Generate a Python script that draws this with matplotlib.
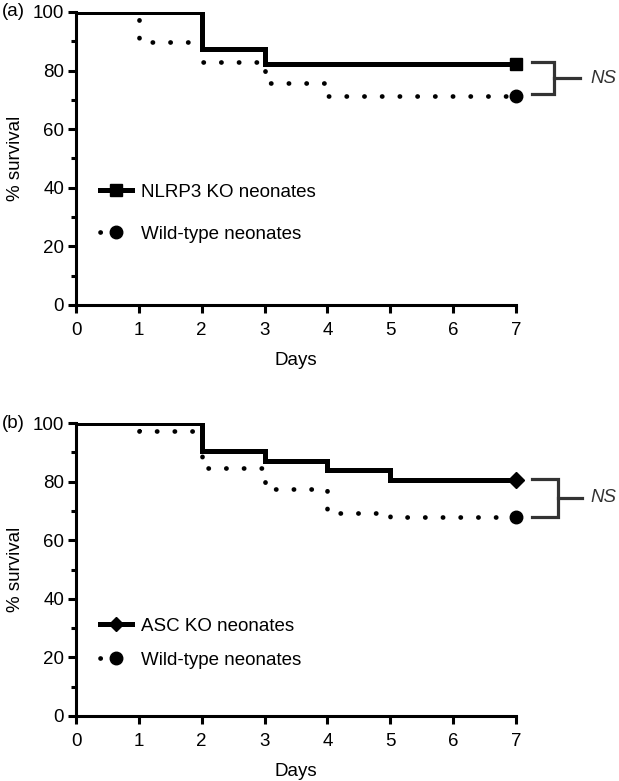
import matplotlib
matplotlib.use("Agg")
import matplotlib.pyplot as plt
from matplotlib.ticker import MultipleLocator

plt.rcParams['font.family'] = ['Liberation Sans', 'DejaVu Sans']

# ---- data ----
days = [0, 1, 2, 3, 4, 5, 7]

# panel (a)
a_ko = [100, 100, 87.4, 82.2, 82.2, 82.2, 82.2]
a_wt = [100, 89.9, 83.0, 75.6, 71.4, 71.4, 71.4]
a_labels = ["NLRP3 KO neonates", "Wild-type neonates"]

# panel (b)
b_ko = [100, 100, 90.3, 87.1, 83.9, 80.6, 80.6]
b_wt = [100, 97.4, 84.6, 77.6, 69.2, 67.8, 67.8]
b_labels = ["ASC KO neonates", "Wild-type neonates"]

xticks = [0, 1, 2, 3, 4, 5, 6, 7]
yticks = [0, 20, 40, 60, 80, 100]
sig_text = "NS"

FS = 13.5
W, H = 619, 781
fig = plt.figure(figsize=(W / 100, H / 100), dpi=100)

DOT_LW = 3.4
DOT = (0, (0.05, 3.7))


def ax_rect(left, right, top, bottom):
    return [left / W, 1 - bottom / H, (right - left) / W, (bottom - top) / H]


def panel(rect, ko, wt, labels, ko_marker, bracket, leg_anchor, leg_space):
    ax = fig.add_axes(rect)
    ax.plot(days, wt, drawstyle='steps-post', color='black', lw=DOT_LW,
            linestyle=DOT, dash_capstyle='round', zorder=2)
    ax.plot(days, ko, drawstyle='steps-post', color='black', lw=3.6,
            solid_joinstyle='miter', zorder=3)
    ax.plot(days[-1:], ko[-1:], marker=ko_marker, ms=8.5 if ko_marker == 's' else 8.5,
            color='black', ls='none', clip_on=False, zorder=4)
    ax.plot(days[-1:], wt[-1:], marker='o', ms=9, color='black', ls='none',
            clip_on=False, zorder=4)

    # legend handles
    h1, = ax.plot([], [], color='black', lw=3.6, marker=ko_marker,
                  ms=8 if ko_marker == 's' else 7.5)
    h2, = ax.plot([], [], color='black', lw=DOT_LW, linestyle=DOT,
                  dash_capstyle='round', marker='o', ms=9)
    ax.legend([h1, h2], labels, loc='upper left', bbox_to_anchor=leg_anchor,
              frameon=False, fontsize=FS, handlelength=1.7, handletextpad=0.45,
              labelspacing=leg_space, borderpad=0, borderaxespad=0, numpoints=1)

    ax.set_xlim(0, 7)
    ax.set_ylim(0, 100)
    ax.set_xticks(xticks)
    ax.set_yticks(yticks)
    ax.yaxis.set_minor_locator(MultipleLocator(10))
    for s in ['top', 'right']:
        ax.spines[s].set_visible(False)
    for s in ['left', 'bottom']:
        ax.spines[s].set_linewidth(2.2)
    ax.tick_params(axis='both', which='major', width=2.2, length=5.5,
                   labelsize=FS, direction='out')
    ax.tick_params(axis='y', which='minor', width=2.2, length=3.8)
    ax.tick_params(axis='x', pad=7)
    ax.tick_params(axis='y', pad=3)
    ax.set_xlabel("Days", fontsize=FS, labelpad=9)
    ax.set_ylabel("% survival", fontsize=FS, labelpad=6)

    # significance bracket
    x0, x1, x2, ytop, ybot, xt = bracket
    ymid = (ytop + ybot) / 2
    ax.plot([x0, x1, x1, x0], [ytop, ytop, ybot, ybot], color='#333333', lw=2.3,
            clip_on=False, solid_joinstyle='miter')
    ax.plot([x1, x2], [ymid, ymid], color='#333333', lw=2.3, clip_on=False)
    ax.text(xt, ymid, sig_text, fontsize=FS, style='italic', color='#333333',
            va='center', ha='left', clip_on=False)
    return ax


axa = panel(ax_rect(76, 516, 12, 305), a_ko, a_wt, a_labels, 's',
            (7.25, 7.60, 8.02, 82.9, 72.0, 8.18), (0.055, 0.415), 1.35)
axb = panel(ax_rect(76, 516, 423, 716), b_ko, b_wt, b_labels, 'D',
            (7.25, 7.67, 8.05, 80.9, 68.0, 8.18), (0.055, 0.335), 0.9)

fig.text(2 / W, 1 - 12 / H, "(a)", fontsize=FS, va='center', ha='left')
fig.text(2 / W, 1 - 423 / H, "(b)", fontsize=FS, va='center', ha='left')

fig.savefig("out.png", dpi=100)
